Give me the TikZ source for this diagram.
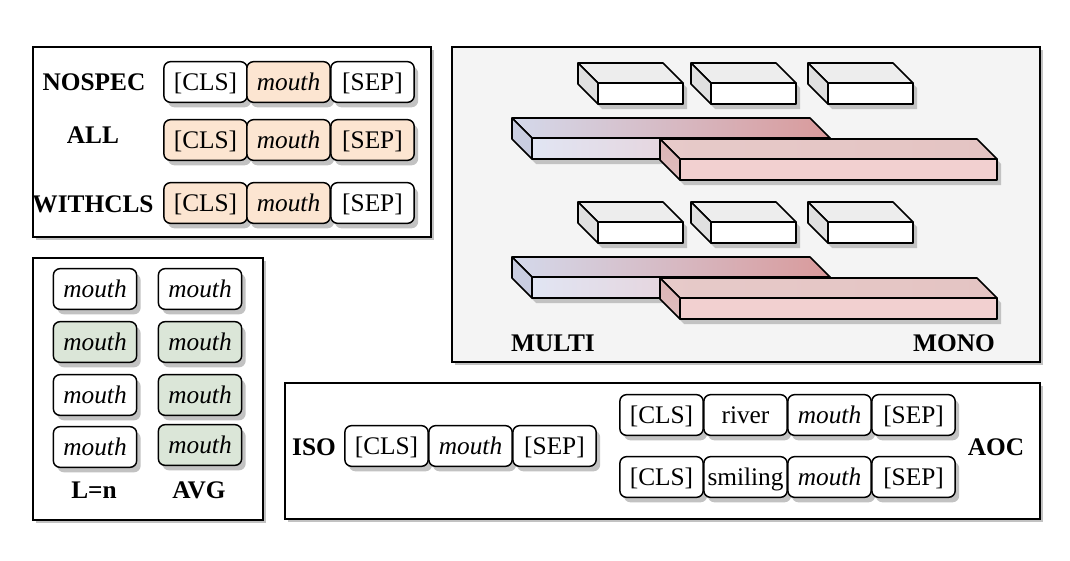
\documentclass[tikz,border=0pt]{standalone}
\usepackage{fontspec}
\setmainfont{Liberation Serif}
\usetikzlibrary{shadows}
\definecolor{peach}{HTML}{FCE5D1}
\definecolor{greenf}{HTML}{DBE6D8}
\definecolor{panelgray}{HTML}{F4F4F4}
\definecolor{shadowgray}{HTML}{C2C2C2}
\definecolor{topgray}{HTML}{EDEDED}
\definecolor{sidegray}{HTML}{E0E0E0}
\definecolor{bluetop}{HTML}{D4D9EB}
\definecolor{rosetop}{HTML}{D99A9B}
\definecolor{bluefront}{HTML}{E1E5F3}
\definecolor{rosefront}{HTML}{EBC3C6}
\definecolor{blueside}{HTML}{C9CDE0}
\definecolor{pinktop}{HTML}{E4C4C3}
\definecolor{pinkfront}{HTML}{F2D0D0}
\definecolor{pinkside}{HTML}{DBB3B4}
\tikzset{
  panel/.style={draw=black, line width=1.1pt, fill=white,
    drop shadow={shadow xshift=2.5pt, shadow yshift=-2.5pt, fill=shadowgray, opacity=1}},
  tok/.style={draw=black, line width=1.1pt, rounded corners=5pt, fill=white,
    minimum width=62.5pt, minimum height=30.5pt, inner sep=0pt,
    text height=12.6pt, text depth=0pt,
    font=\fontsize{19}{22}\selectfont,
    drop shadow={shadow xshift=3pt, shadow yshift=-3.75pt, fill=shadowgray, opacity=1}},
  lab/.style={font=\fontsize{19}{22}\selectfont\bfseries, inner sep=0pt,
    text height=12.6pt, text depth=0pt},
  edge3d/.style={draw=black, line width=1.2pt, line join=round},
  shad3d/.style={fill=shadowgray},
}
% back-top-left x, y, width, height, depth, top style, side style, front style
\newcommand{\cubeblock}[8]{%
  \fill[shad3d] ({#1+4},{#2+5}) -- ({#1+#3+4},{#2+5}) -- ({#1+#3+#5+4},{#2+#5+5}) -- ({#1+#3+#5+4},{#2+#5+#4+5}) -- ({#1+#5+4},{#2+#5+#4+5}) -- ({#1+4},{#2+#4+5}) -- cycle;
  \path[edge3d,#6] (#1,#2) -- ({#1+#3},#2) -- ({#1+#3+#5},{#2+#5}) -- ({#1+#5},{#2+#5}) -- cycle;
  \path[edge3d,#7] (#1,#2) -- ({#1+#5},{#2+#5}) -- ({#1+#5},{#2+#5+#4}) -- (#1,{#2+#4}) -- cycle;
  \path[edge3d,#8] ({#1+#5},{#2+#5}) rectangle ({#1+#5+#3},{#2+#5+#4});
}
\begin{document}
\begin{tikzpicture}[x=0.75pt,y=-0.75pt]
\useasboundingbox[fill=white] (0,0) rectangle (1070,560);

% ---------- panels ----------
\path[panel] (33,47) rectangle (431,237);
\path[panel, fill=panelgray] (452,47) rectangle (1040,362);
\path[panel] (33,258) rectangle (263,520);
\path[panel] (285,383) rectangle (1040,519);

% ---------- panel 1 ----------
\node[lab] (nospec) at (94,82) {NOSPEC};
\node[lab] (all) at (93,135) {ALL};
\node[lab] (withcls) at (93,204) {WITHCLS};

\node[tok] (a1) at (205.5,82) {[CLS]};
\node[tok, fill=peach] (a2) at (288.5,82) {\itshape mouth};
\node[tok] (a3) at (372.5,82) {[SEP]};

\node[tok, fill=peach] (b1) at (205.5,140) {[CLS]};
\node[tok, fill=peach] (b2) at (288.5,140) {\itshape mouth};
\node[tok, fill=peach] (b3) at (372.5,140) {[SEP]};

\node[tok, fill=peach] (c1) at (205.5,203) {[CLS]};
\node[tok, fill=peach] (c2) at (288.5,203) {\itshape mouth};
\node[tok] (c3) at (372.5,203) {[SEP]};

% ---------- panel 2 ----------
\foreach \yy in {0,139} {
  \foreach \xx in {578,691,808} {
    \cubeblock{\xx}{63+\yy}{85}{21}{20}{fill=topgray}{fill=sidegray}{fill=white}
  }
  \cubeblock{512}{118+\yy}{298}{21}{20}{left color=bluetop, right color=rosetop}{fill=blueside}{left color=bluefront, right color=rosefront}
  \cubeblock{660}{139+\yy}{317}{21}{20}{left color=pinktop!90!white, right color=pinktop}{top color=pinkside, bottom color=pinkside!85!white}{fill=pinkfront}
}
\node[lab] (multi) at (553,343) {MULTI};
\node[lab] (mono) at (954,343) {MONO};

% ---------- panel 3 ----------
\node[tok] (l1) at (95,289) {\itshape mouth};
\node[tok, fill=greenf] (l2) at (95,342) {\itshape mouth};
\node[tok] (l3) at (95,395) {\itshape mouth};
\node[tok] (l4) at (95,447) {\itshape mouth};
\node[tok] (v1) at (200,289) {\itshape mouth};
\node[tok, fill=greenf] (v2) at (200,342) {\itshape mouth};
\node[tok, fill=greenf] (v3) at (200,395) {\itshape mouth};
\node[tok, fill=greenf] (v4) at (200,445) {\itshape mouth};
\node[lab] (ln) at (94,490) {L=n};
\node[lab] (avg) at (199,490) {AVG};

% ---------- panel 4 ----------
\node[lab] (iso) at (314,447) {ISO};
\node[tok] (i1) at (386.5,446) {[CLS]};
\node[tok] (i2) at (470.5,446) {\itshape mouth};
\node[tok] (i3) at (554.5,446) {[SEP]};

\node[tok] (r1) at (661.5,415) {[CLS]};
\node[tok] (r2) at (745.5,415) {river};
\node[tok] (r3) at (829.5,415) {\itshape mouth};
\node[tok] (r4) at (913.5,415) {[SEP]};

\node[tok] (s1) at (661.5,477) {[CLS]};
\node[tok] (s2) at (745.5,477) {smiling};
\node[tok] (s3) at (829.5,477) {\itshape mouth};
\node[tok] (s4) at (913.5,477) {[SEP]};

\node[lab] (aoc) at (996,447) {AOC};
\end{tikzpicture}
\end{document}
